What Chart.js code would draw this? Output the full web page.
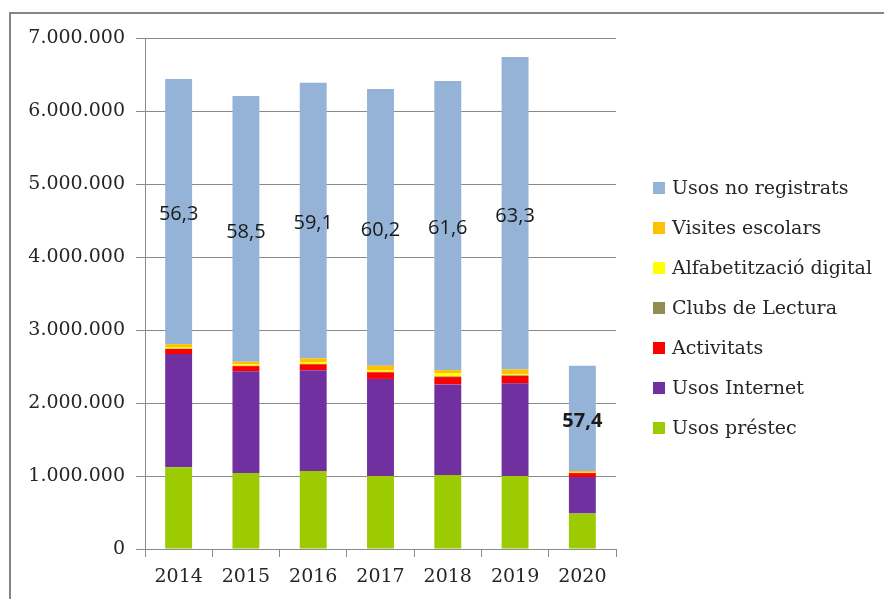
<!DOCTYPE html>
<html lang="ca">
<head>
    <meta charset="UTF-8">
    <title>Usos de biblioteques</title>
    <script src="https://cdn.jsdelivr.net/npm/chart.js"></script>
    <style>
        body {
            margin: 0;
            background-color: #ffffff;
            overflow: hidden;
        }

        .frame {
            position: absolute;
            left: 9px;
            top: 12px;
            width: 900px;
            height: 620px;
            border-top: 2px solid #858585;
            border-left: 2px solid #858585;
        }

        #usesChart {
            position: absolute;
            left: 0;
            top: 0;
        }
    </style>
</head>
<body>
    <div class="frame"></div>
    <canvas id="usesChart" width="884" height="599"></canvas>

    <script>
        // Data, stacked bottom to top
        const years = ['2014', '2015', '2016', '2017', '2018', '2019', '2020'];
        const usosPrestec = [1120000, 1040000, 1070000, 1000000, 1015000, 1000000, 485000];
        const usosInternet = [1550000, 1395000, 1380000, 1330000, 1240000, 1270000, 500000];
        const activitats = [70000, 70000, 80000, 90000, 100000, 100000, 55000];
        const clubsLectura = [5000, 5000, 6000, 6000, 10000, 10000, 3000];
        const alfabetitzacio = [20000, 20000, 25000, 20000, 40000, 12000, 5000];
        const visitesEscolars = [40000, 35000, 50000, 65000, 45000, 68000, 20000];
        const usosNoRegistrats = [3635000, 3640000, 3775000, 3790000, 3960000, 4280000, 1442000];
        // percentage shown inside the "Usos no registrats" segment
        const pctNoRegistrats = [56.3, 58.5, 59.1, 60.2, 61.6, 63.3, 57.4];
        const yTicks = [0, 1000000, 2000000, 3000000, 4000000, 5000000, 6000000, 7000000];

        const textColor = '#262626';
        const gridColor = '#8a8a8a';

        function dots(n) {
            return String(n).replace(/\B(?=(\d{3})+(?!\d))/g, '.');
        }

        // labels centred on the top segment
        const pctLabels = {
            id: 'pctLabels',
            afterDatasetsDraw(chart) {
                const ctx = chart.ctx;
                const meta = chart.getDatasetMeta(6);
                ctx.save();
                ctx.textAlign = 'center';
                ctx.textBaseline = 'middle';
                ctx.fillStyle = '#1a1a1a';
                meta.data.forEach((bar, i) => {
                    const c = bar.getCenterPoint();
                    const last = i === meta.data.length - 1;
                    ctx.font = (last ? 'bold ' : '') + '20px "Open Sans"';
                    ctx.fillText(String(pctNoRegistrats[i]).replace('.', ','), c.x, c.y + 3);
                });
                ctx.restore();
            }
        };

        // legend on the right, top dataset first
        const sideLegend = {
            id: 'sideLegend',
            afterDraw(chart) {
                const ctx = chart.ctx;
                const area = chart.chartArea;
                const x0 = area.right + 37;
                const y0 = area.top + 150;
                const gap = 40;
                const sets = chart.data.datasets.slice().reverse();
                ctx.save();
                ctx.font = '19px "DejaVu Serif"';
                ctx.textBaseline = 'middle';
                ctx.textAlign = 'left';
                sets.forEach((ds, i) => {
                    const y = y0 + i * gap;
                    ctx.fillStyle = ds.backgroundColor;
                    ctx.fillRect(x0, y - 6, 12, 12);
                    ctx.fillStyle = textColor;
                    ctx.fillText(ds.label, x0 + 19, y + 1);
                });
                ctx.restore();
            }
        };

        const ctx = document.getElementById('usesChart').getContext('2d');
        new Chart(ctx, {
            type: 'bar',
            data: {
                labels: years,
                datasets: [
                    { label: 'Usos préstec', data: usosPrestec, backgroundColor: '#9bcb00' },
                    { label: 'Usos Internet', data: usosInternet, backgroundColor: '#7030a0' },
                    { label: 'Activitats', data: activitats, backgroundColor: '#ff0000' },
                    { label: 'Clubs de Lectura', data: clubsLectura, backgroundColor: '#948a54' },
                    { label: 'Alfabetització digital', data: alfabetitzacio, backgroundColor: '#ffff00' },
                    { label: 'Visites escolars', data: visitesEscolars, backgroundColor: '#ffc000' },
                    { label: 'Usos no registrats', data: usosNoRegistrats, backgroundColor: '#95b3d7' }
                ]
            },
            options: {
                responsive: false,
                animation: false,
                layout: {
                    padding: { top: 38, right: 268, bottom: 0, left: 0 }
                },
                datasets: {
                    bar: { barPercentage: 0.4, categoryPercentage: 1.0 }
                },
                scales: {
                    x: {
                        stacked: true,
                        afterFit(scale) { scale.height = 50; },
                        grid: {
                            offset: true,
                            drawOnChartArea: false,
                            drawTicks: true,
                            tickLength: 8,
                            color: gridColor
                        },
                        border: { color: gridColor },
                        ticks: {
                            color: textColor,
                            padding: 9,
                            font: { family: 'DejaVu Serif', size: 19 }
                        }
                    },
                    y: {
                        stacked: true,
                        min: 0,
                        max: 7000000,
                        afterFit(scale) { scale.width = 145; },
                        afterBuildTicks(scale) {
                            scale.ticks = yTicks.map(v => ({ value: v }));
                        },
                        grid: {
                            color: gridColor,
                            drawTicks: true,
                            tickLength: 9
                        },
                        border: { color: gridColor },
                        ticks: {
                            color: textColor,
                            padding: 11,
                            font: { family: 'DejaVu Serif', size: 19 },
                            callback: v => dots(v)
                        }
                    }
                },
                plugins: {
                    legend: { display: false },
                    tooltip: { enabled: false }
                }
            },
            plugins: [pctLabels, sideLegend]
        });
    </script>
</body>
</html>
